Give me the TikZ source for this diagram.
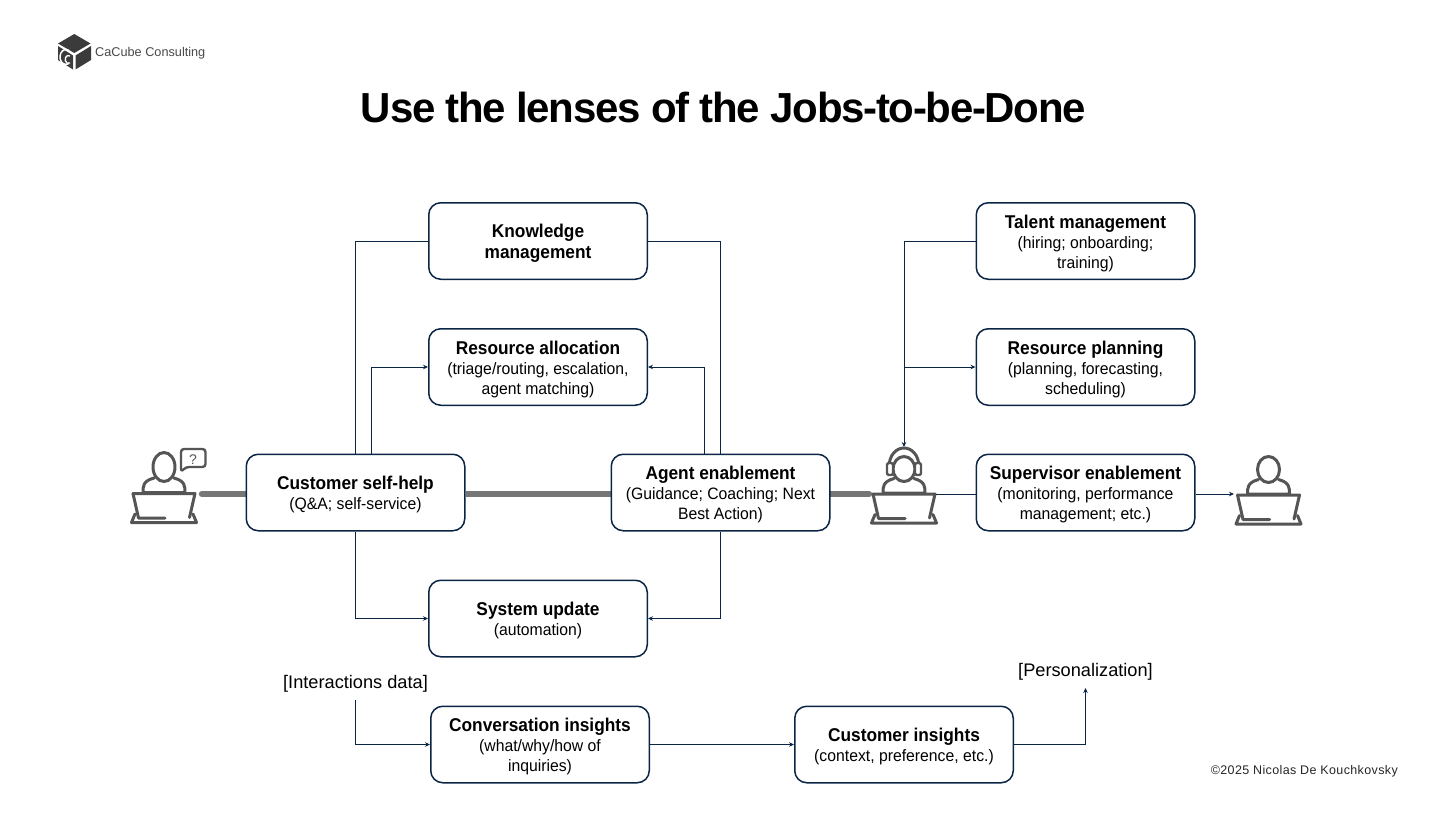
\documentclass[tikz,border=0pt]{standalone}
\usepackage{fontspec}
\setmainfont{Liberation Sans}
\newfontfamily\bodyfont[FakeStretch=0.955]{Liberation Sans}
\newfontfamily\headfont[FakeStretch=0.935]{Liberation Sans}
\newfontfamily\titlefont[LetterSpace=-3.1]{Liberation Sans}
\newfontfamily\creditfont[LetterSpace=3]{Liberation Sans}
\usetikzlibrary{arrows.meta,backgrounds}
\definecolor{navy}{HTML}{0B2545}
\definecolor{icon}{HTML}{555555}
\definecolor{thick}{HTML}{767676}
\tikzset{
  box/.style={draw=navy,line width=1.5pt,rounded corners=12pt,minimum width=218.5pt,minimum height=76.5pt,fill=white,align=center,inner sep=0pt,font=\bodyfont\fontsize{16.5}{20}\selectfont,text=black},
  link/.style={draw=navy,line width=1pt},
  arr/.style={link,-{Stealth[length=5pt,width=4.5pt]}},
  thickline/.style={draw=thick,line width=6.5pt},
  iconline/.style={draw=icon,line width=3pt,line cap=round,line join=round},
  lbl/.style={font=\fontsize{18.2}{22}\selectfont,text=black,inner sep=0pt},
  pics/laptop/.style={code={
    \draw[iconline,fill=white] (-10,10) .. controls (-21,13) and (-21,18) .. (-21,24.5) -- (21,24.5) .. controls (21,18) and (21,13) .. (10,10);
    \fill[white] (-31,25.5) -- (31,25.5) -- (25,50) -- (-25,50) -- cycle;
    \draw[iconline] (-31,25.5) -- (31,25.5) -- (25.5,49.5);
    \draw[iconline] (-31,25.5) -- (-25.5,50) -- (1,50);
    \draw[iconline] (-29,46) -- (-32.5,54.5) -- (32.5,54.5) -- (29,46);
  }}
}
\newcommand{\bt}[1]{{\headfont\bfseries\fontsize{18.5}{20}\selectfont #1}}
\newcommand{\bh}[1]{\mbox{}\\[-2.2pt]\bt{#1}}
\begin{document}
\begin{tikzpicture}[x=1pt,y=-1pt]
\useasboundingbox (0,0) rectangle (1456,819);
% logo
\fill[icon!70!black] (74.3,34) -- (90.5,43.5) -- (74.3,53) -- (58,43.5) -- cycle;
\fill[icon!70!black] (91,46) -- (91,60) -- (75.5,69.5) -- (75.5,55.5) -- cycle;
\fill[icon!70!black] (58,46) -- (73,55.5) -- (73,69.5) -- (58,60) -- cycle;
\draw[white,line width=1.5pt] (69,50.5) arc[start angle=60,end angle=300,x radius=6pt,y radius=7.5pt];
\draw[white,line width=1.3pt] (70,56) arc[start angle=60,end angle=300,x radius=3.2pt,y radius=4pt];
\node[font=\fontsize{12.7}{15}\selectfont,text=icon!85!black,anchor=west,inner sep=0pt] (logo) at (95,53) {CaCube Consulting};
\node[font=\titlefont\bfseries\fontsize{42}{48}\selectfont,text=black,inner sep=0pt] (title) at (723.5,107) {Use the lenses of the Jobs-to-be-Done};
% icons
\coordinate (userA) at (164,468);
\coordinate (agent) at (904,468.5);
\coordinate (userB) at (1268.5,469.5);
\pic at (userA) {laptop};
\pic at (agent) {laptop};
\pic at (userB) {laptop};
\draw[iconline,fill=white] (userA) ++(0,-1) ellipse (11pt and 14.5pt);
\draw[iconline,fill=white] (agent) ++(0,0.5) ellipse (11pt and 12.5pt);
\draw[iconline,fill=white] (userB) ellipse (11pt and 13pt);
% bubble
\draw[iconline,line width=2.4pt,fill=white,rounded corners=3pt] (181,472) -- (181,449) -- (205.5,449) -- (205.5,467) -- (186,467) -- cycle;
\node[font=\fontsize{14}{16}\selectfont,text=icon,inner sep=0pt] (qm) at (193,459.5) {?};
% headset
\draw[iconline] (889,469) .. controls (888,441) and (920,441) .. (919,469);
\draw[iconline,line width=2.4pt,fill=white,rounded corners=2pt] (887,463) rectangle (893,475);
\draw[iconline,line width=2.4pt,fill=white,rounded corners=2pt] (915,463) rectangle (921,475);
% boxes
\node[box] (km) at (538,241) {\bh{Knowledge}\\[1pt]\bt{management}};
\node[box] (ra) at (538,367) {\bh{Resource allocation}\\(triage/routing, escalation,\\agent matching)};
\node[box] (cs) at (355.5,492.5) {\bh{Customer self-help}\\(Q\&A; self-service)};
\node[box] (ae) at (720.5,492.5) {\bh{Agent enablement}\\(Guidance; Coaching; Next\\Best Action)};
\node[box] (su) at (538,618.5) {\bh{System update}\\(automation)};
\node[box] (tm) at (1085.5,241) {\bh{Talent management}\\(hiring; onboarding;\\training)};
\node[box] (rp) at (1085.5,367) {\bh{Resource planning}\\(planning, forecasting,\\scheduling)};
\node[box] (se) at (1085.5,492.5) {\bh{Supervisor enablement}\\(monitoring, performance\\management; etc.)};
\node[box] (ci) at (540,744.5) {\bh{Conversation insights}\\(what/why/how of\\inquiries)};
\node[box] (cu) at (904,744.5) {\bh{Customer insights}\\(context, preference, etc.)};
\node[lbl] (idata) at (355.5,684) {[Interactions data]};
\node[lbl] (pers) at (1085.5,672) {[Personalization]};
\node[font=\creditfont\fontsize{12.5}{15}\selectfont,text=black!85,anchor=east,inner sep=0pt] (credit) at (1398,771) {©2025 Nicolas De Kouchkovsky};
% connector ends
\coordinate (userAe) at (202,494);
\coordinate (agentw) at (869,494);
\coordinate (agentn) at (904,447);
\coordinate (agente) at (936,494);
\coordinate (userBw) at (1234,494);
\coordinate (junction) at (904,367);
\coordinate (idataout) at (355.5,700);
\coordinate (persin) at (1085.5,688);
% thick
\begin{scope}[on background layer]
\draw[thickline,line cap=round] (userAe) -- (userAe -| cs.west);
\draw[thickline] (userAe -| cs.east) -- (userAe -| ae.west);
\draw[thickline,line cap=round] (agentw -| ae.east) -- (agentw);
\end{scope}
% links
\draw[link] (km.west) -| (cs.north);
\draw[link] (km.east) -| (ae.north);
\draw[arr] ([xshift=16pt]cs.north) |- (ra.west);
\draw[arr] ([xshift=-16pt]ae.north) |- (ra.east);
\draw[arr] (cs.south) |- (su.west);
\draw[arr] (ae.south) |- (su.east);
\draw[arr] (tm.west) -| (agentn);
\draw[arr] (junction) -- (rp.west);
\draw[link] (agente) -- (agente -| se.west);
\draw[arr] (userBw -| se.east) -- (userBw);
\draw[arr] (idataout) |- (ci.west);
\draw[arr] (ci.east) -- (cu.west);
\draw[arr] (cu.east) -| (persin);
\end{tikzpicture}
\end{document}
